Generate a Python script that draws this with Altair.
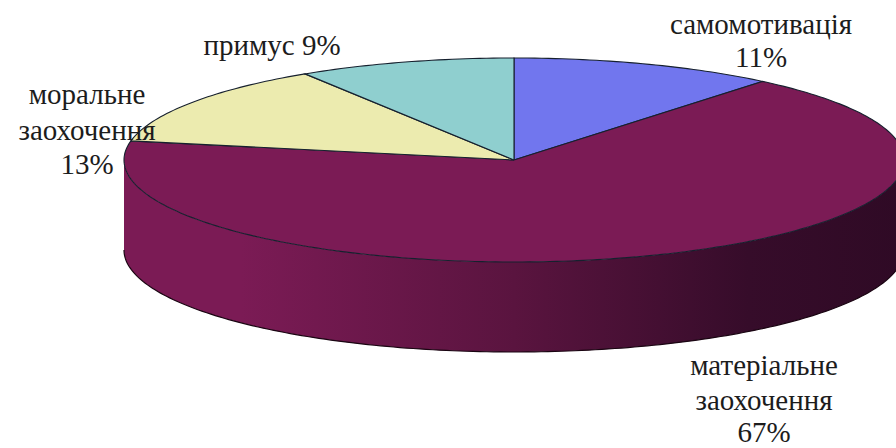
import math
import altair as alt
import pandas as pd

# Survey shares, clockwise from twelve o'clock
categories = ["самомотивація", "матеріальне заохочення", "моральне заохочення", "примус"]
shares = [11, 67, 13, 9]
colors = ["#7176ee", "#7b1b55", "#ecebaf", "#8fcfcf"]

# Pie geometry on the plot canvas
W, H = 896, 448
CX, CY = 514, 160       # pie centre, pixels
RX, RY = 390, 102       # ellipse radii, pixels
DEPTH = 90              # wall height, pixels
X_DOMAIN = [(0 - CX) / RX, (W - CX) / RX]
Y_DOMAIN = [(H - CY) / RY, (0 - CY) / RY]
DROP = DEPTH / RY

x_scale = alt.Scale(domain=X_DOMAIN, nice=False, zero=False)
y_scale = alt.Scale(domain=Y_DOMAIN, nice=False, zero=False)


def rim(a_start, a_end, step=1.0):
    n = max(2, int(abs(a_end - a_start) / step) + 1)
    return [a_start + (a_end - a_start) * i / (n - 1) for i in range(n)]


def unit_x(deg):
    return math.sin(math.radians(deg))


def unit_y(deg):
    return -math.cos(math.radians(deg))


base = dict(
    x=alt.X("x:Q", scale=x_scale, axis=None),
    y=alt.Y("y:Q", scale=y_scale, axis=None),
)

# Outer wall: the front half of the rim, swept downwards
wall_angles = rim(90, 270)
wall = pd.DataFrame({
    "x": [unit_x(a) for a in wall_angles],
    "y": [unit_y(a) for a in wall_angles],
    "y2": [unit_y(a) + DROP for a in wall_angles],
})
wall_fill = alt.Gradient(
    gradient="linear", x1=1, x2=0, y1=0, y2=0,
    stops=[
        alt.GradientStop(color="#2f0a25", offset=0),
        alt.GradientStop(color="#360c2a", offset=0.2),
        alt.GradientStop(color="#5a143f", offset=0.5),
        alt.GradientStop(color="#7b1b55", offset=0.85),
        alt.GradientStop(color="#7b1b55", offset=1),
    ],
)
layers = [
    alt.Chart(wall).mark_area(fill=wall_fill, clip=True).encode(
        **base, y2="y2:Q"
    ),
    alt.Chart(wall.assign(y=wall["y2"])).mark_line(
        stroke="#1a0512", strokeWidth=1.2, clip=True
    ).encode(**base),
]

# Top face: one closed outline per slice
start = 0.0
for name, share, color in zip(categories, shares, colors):
    end = start + 360 * share / sum(shares)
    angles = rim(start, end)
    xs = [0.0] + [unit_x(a) for a in angles] + [0.0]
    ys = [0.0] + [unit_y(a) for a in angles] + [0.0]
    outline = pd.DataFrame({"x": xs, "y": ys, "i": range(len(xs))})
    layers.append(
        alt.Chart(outline).mark_line(
            fill=color, stroke="#16202e", strokeWidth=1.1, clip=True
        ).encode(**base, order="i:O")
    )
    start = end

# Slice captions, one text row per line
label_lines = [
    ["самомотивація", "11%"],
    ["матеріальне", "заохочення", "67%"],
    ["моральне", "заохочення", "13%"],
    ["примус 9%"],
]
label_x = [761, 764, 87, 272]
label_y = [[25, 58], [366, 401, 433], [95, 131, 165], [46]]

for lines, lx, lys in zip(label_lines, label_x, label_y):
    for line, ly in zip(lines, lys):
        layers.append(
            alt.Chart(pd.DataFrame({"t": [line]})).mark_text(
                font="Liberation Serif", fontSize=29, color="#1c1c1c",
                align="center", baseline="middle",
            ).encode(x=alt.value(lx), y=alt.value(ly), text="t:N")
        )

chart = alt.layer(*layers).properties(
    width=W, height=H, padding=0,
    autosize=alt.AutoSizeParams(type="none"),
    background="white",
).configure_view(stroke=None)

chart.save("out.html", embed_options={"renderer": "svg", "actions": False})
